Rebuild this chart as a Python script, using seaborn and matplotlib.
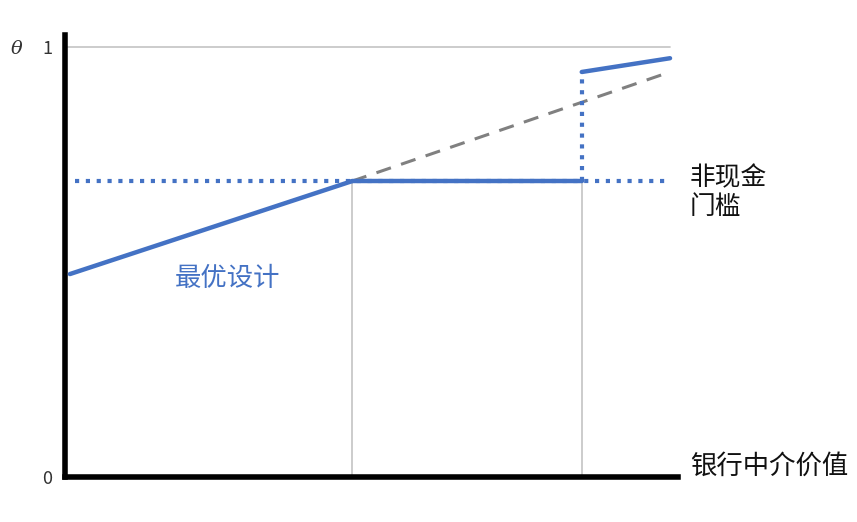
import matplotlib
matplotlib.use("Agg")
import matplotlib.pyplot as plt
import seaborn as sns

# -----------------------------
# Data (x: bank intermediation value, y: theta)
# -----------------------------
x_kink = 0.468
x_jump = 0.843
x_end = 0.987

opt_low_x = [0.008, x_kink]
opt_low_y = [0.472, 0.688]
opt_flat_x = [x_kink, x_jump]
opt_flat_y = [0.688, 0.688]
jump_x = [x_jump, x_jump]
jump_y = [0.688, 0.942]
opt_high_x = [x_jump, x_end]
opt_high_y = [0.942, 0.974]
dash_x = [x_kink, x_end]
dash_y = [0.688, 0.942]
thresh_x = [0.016, x_end]
thresh_y = [0.688, 0.688]

ytick_vals = [0, 1]
ytick_labels = ["0", "1"]

blue = "#4472C4"
grey = "#C8C8C8"

sns.set_style("white")
plt.rcParams["font.family"] = ["Noto Sans CJK SC", "DejaVu Sans"]

fig = plt.figure(figsize=(8.57, 5.22), dpi=100)
ax = fig.add_axes([65 / 857, 45 / 522, 613 / 857, 442 / 522])

# reference lines
ax.plot([0, x_end], [1, 1], color=grey, lw=1.3, zorder=1)
ax.plot([x_kink, x_kink], [0, 0.688], color=grey, lw=1.3, zorder=1)
ax.plot([x_jump, x_jump], [0, 0.688], color=grey, lw=1.3, zorder=1)

# threshold dotted line
sns.lineplot(x=thresh_x, y=thresh_y, ax=ax, color=blue, lw=3, ls=(0, (1, 1.6)), zorder=2)

# dashed continuation
sns.lineplot(x=dash_x, y=dash_y, ax=ax, color="#808080", lw=2.2, ls=(0, (5, 3.5)), zorder=2)

# optimal design
sns.lineplot(x=opt_low_x, y=opt_low_y, ax=ax, color=blue, lw=3.2, zorder=3)
sns.lineplot(x=opt_flat_x, y=opt_flat_y, ax=ax, color=blue, lw=3.2, zorder=3)
sns.lineplot(x=jump_x, y=jump_y, ax=ax, color=blue, lw=3, ls=(0, (1, 1.6)),
             sort=False, estimator=None, zorder=3)
sns.lineplot(x=opt_high_x, y=opt_high_y, ax=ax, color=blue, lw=3.2, zorder=3)

ax.set_xlim(0, 1)
ax.set_ylim(0, 1.028)
ax.set_xticks([])
ax.set_yticks(ytick_vals)
ax.set_yticklabels(ytick_labels, fontsize=13, color="#333333")
ax.tick_params(axis="y", length=0, pad=9)

for side in ["top", "right"]:
    ax.spines[side].set_visible(False)
for side in ["left", "bottom"]:
    ax.spines[side].set_linewidth(4)
    ax.spines[side].set_color("black")

# labels
fig.text(11 / 857, 1 - 49 / 522, "θ", fontsize=14, style="italic",
         family="DejaVu Serif", color="#333333", va="center")
fig.text(690 / 857, 1 - 193 / 522, "非现金\n门槛", fontsize=18.5,
         va="center", ha="left", linespacing=1.15, color="#111111")
fig.text(690 / 857, 1 - 466 / 522, "银行中介价值", fontsize=19,
         va="center", ha="left", color="#111111")
fig.text(175 / 857, 1 - 279 / 522, "最优设计", fontsize=19,
         va="center", ha="left", color=blue)

fig.savefig("out.png", dpi=100)
